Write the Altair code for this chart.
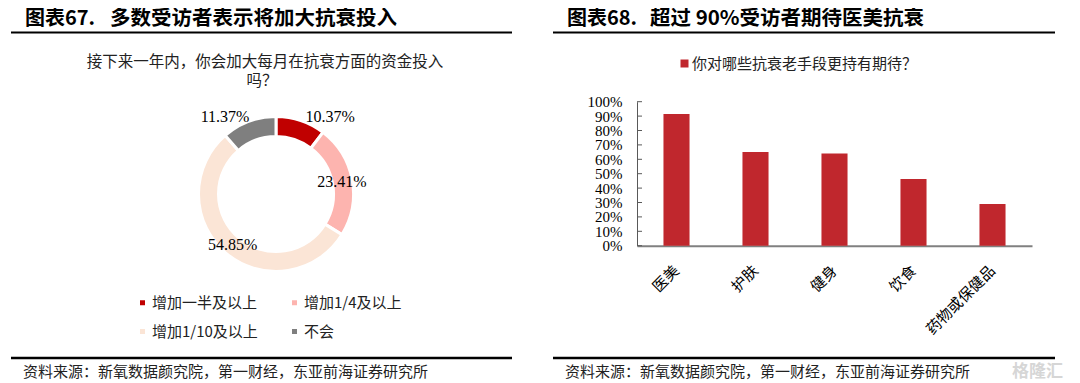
import altair as alt
import pandas as pd

# ---------------- data ----------------
donut_cats = ["增加一半及以上", "增加1/4及以上", "增加1/10及以上", "不会"]
donut_vals = [10.37, 23.41, 54.85, 11.37]
donut_labels = ["10.37%", "23.41%", "54.85%", "11.37%"]
donut_colors = ["#C00000", "#FDB4AF", "#FBE5D6", "#7F7F7F"]
# legend reading order (legend fills column by column)
legend_order = ["增加一半及以上", "增加1/10及以上", "增加1/4及以上", "不会"]

bar_cats = ["医美", "护肤", "健身", "饮食", "药物或保健品"]
bar_vals = [91.5, 65.0, 64.0, 46.3, 29.0]
bar_series = "你对哪些抗衰老手段更持有期待？"
bar_color = "#C0272D"
y_ticks = list(range(0, 101, 10))

title_left_a = "图表67."
title_left_b = "多数受访者表示将加大抗衰投入"
title_right_a = "图表68."
title_right_b = "超过 90%受访者期待医美抗衰"
sub_left_1 = "接下来一年内，你会加大每月在抗衰方面的资金投入"
sub_left_2 = "吗？"
source = "资料来源：新氧数据颜究院，第一财经，东亚前海证券研究所"
watermark = "格隆汇"

CJK = "Noto Sans CJK SC"
SERIF = "Liberation Serif"
W, H = 1064, 374
M = 8  # page margin

donut_df = pd.DataFrame({"cat": donut_cats, "value": donut_vals,
                         "label": donut_labels, "idx": list(range(len(donut_cats)))})
bar_df = pd.DataFrame({"item": bar_cats, "pct": bar_vals, "series": [bar_series] * len(bar_cats)})
tick_df = pd.DataFrame({"pct": y_ticks})
one = pd.DataFrame({"a": [0]})

color_map = dict(zip(donut_cats, donut_colors))


def txt(s, x, y, size, align="left", weight="normal", font=CJK, color="#000000"):
    return alt.Chart(one).mark_text(text=s, align=align, baseline="middle", fontSize=size,
                                    fontWeight=weight, font=font, color=color).encode(
        x=alt.value(x - M), y=alt.value(y - M))


def hline(x1, x2, y, w):
    return alt.Chart(one).mark_rule(color="#000000", strokeWidth=w).encode(
        x=alt.value(x1 - M), x2=alt.value(x2 - M), y=alt.value(y - M))


CX, CY = 276 - M, 194 - M
center = dict(x=alt.value(CX), y=alt.value(CY))

arc = alt.Chart(donut_df).mark_arc(innerRadius=57.5, outerRadius=77.5, stroke="white", strokeWidth=3).encode(
    theta=alt.Theta("value:Q", stack=True),
    order=alt.Order("idx:Q"),
    color=alt.Color("cat:N", scale=alt.Scale(domain=legend_order,
                                             range=[color_map[c] for c in legend_order]),
                    legend=alt.Legend(orient="none", legendX=127, legendY=287, title=None, columns=2,
                                      symbolType="square", symbolSize=25, symbolStrokeWidth=0,
                                      labelFont=CJK, labelFontSize=15, labelColor="#222222",
                                      labelOffset=2, columnPadding=29, rowPadding=13, padding=0,
                                      labelLimit=300)),
    **center)

lab_base = alt.Chart(donut_df).transform_window(
    cum="sum(value)", sort=[alt.SortField("idx")]
).transform_calculate(mid="datum.cum - datum.value / 2")


def lab(expr, dx=0, dy=0):
    return lab_base.transform_filter(expr).mark_text(
        radius=67, font=SERIF, fontSize=16, color="#000000", dx=dx, dy=dy, baseline="middle").encode(
        theta=alt.Theta("mid:Q", stack=False), text="label:N", **center)


labels_in = lab("datum.idx == 1 || datum.idx == 2")
label_a = lab("datum.idx == 0", dx=32.6, dy=-13.5)
label_d = lab("datum.idx == 3", dx=-27.5, dy=-14.2)

Y0 = 245.7 - M
Y100 = 101.7 - M
y_axis = alt.Axis(offset=-(637 - M), values=y_ticks, labelExpr="datum.value + '%'",
                  tickSize=0, labelPadding=15, labelFont=SERIF, labelFontSize=15,
                  labelColor="#000000", domainColor="#595959", domainWidth=1,
                  grid=False, labelOverlap=False)
y_scale = alt.Scale(domain=[0, 100], range=[Y0, Y100])

bars = alt.Chart(bar_df).mark_bar().encode(
    x=alt.X("item:N", sort=bar_cats, title=None,
            scale=alt.Scale(range=[637 - M, 1032 - M], paddingInner=0.67, paddingOuter=0.335),
            axis=alt.Axis(offset=Y0 - H, labelAngle=-45, labelAlign="right", labelBaseline="middle",
                          labelPadding=22, tickSize=0, domainColor="#808080", domainWidth=2,
                          labelFont=CJK, labelFontSize=15, labelColor="#000000")),
    y=alt.Y("pct:Q", title=None, scale=y_scale, axis=y_axis),
    color=alt.Color("series:N", scale=alt.Scale(range=[bar_color]),
                    legend=alt.Legend(orient="none", legendX=669, legendY=48, title=None,
                                      symbolType="square", symbolSize=64, symbolStrokeWidth=0,
                                      labelFont=CJK, labelFontSize=15, labelColor="#222222",
                                      labelOffset=0, padding=0, labelLimit=500)),
)

yticks = alt.Chart(tick_df).mark_rule(color="#595959", strokeWidth=1).encode(
    y=alt.Y("pct:Q", title=None, scale=y_scale, axis=y_axis),
    x=alt.value(637 - M), x2=alt.value(642 - M))

layers = [
    hline(11, 512, 32.5, 2), hline(553, 1055, 32.5, 2),
    hline(11, 512, 358, 2.5), hline(553, 1055, 358, 2.5),
    txt(title_left_a, 25, 19, 20, weight="bold"),
    txt(title_left_b, 110, 19, 20.5, weight="bold"),
    txt(title_right_a, 567, 19, 20, weight="bold"),
    txt(title_right_b, 650, 19, 20.5, weight="bold"),
    txt(sub_left_1, 265, 61.5, 15.5, align="center", color="#222222"),
    txt(sub_left_2, 262, 80.5, 15.5, align="center", color="#222222"),
    txt(source, 23, 371.5, 15, color="#222222"),
    txt(source, 565, 371.5, 15, color="#222222"),
    txt(watermark, 1012, 371.5, 17, weight="bold", color="#D6D6D6"),
    arc, labels_in, label_a, label_d,
    bars, yticks,
]

chart = alt.layer(*layers).properties(
    width=W, height=H, padding=0, autosize=alt.AutoSizeParams(type="none")
).resolve_scale(color="independent").configure_view(stroke=None)

chart.save("out.html", embed_options={"renderer": "svg", "actions": False})
